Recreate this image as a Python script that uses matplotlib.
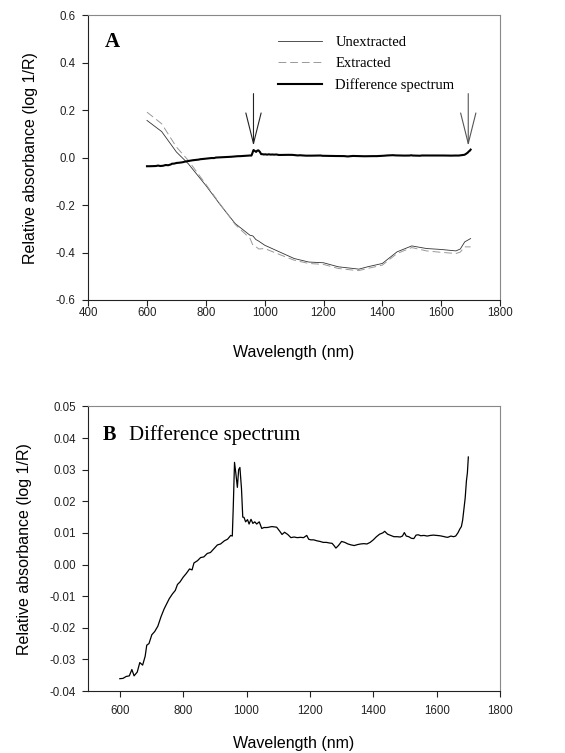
import matplotlib
matplotlib.use("Agg")
import matplotlib.pyplot as plt

# spectra
wl_spec = [600, 650, 700, 740, 800, 850, 900, 950, 960, 970, 980, 1000, 1050, 1100,
           1150, 1200, 1250, 1300, 1320, 1350, 1400, 1450, 1500, 1550, 1600, 1650,
           1665, 1680, 1700]
unextracted = [0.157, 0.110, 0.024, -0.025, -0.117, -0.200, -0.278, -0.327, -0.330,
               -0.345, -0.352, -0.369, -0.397, -0.425, -0.440, -0.443, -0.460, -0.467,
               -0.470, -0.460, -0.446, -0.397, -0.372, -0.383, -0.387, -0.393, -0.385,
               -0.355, -0.341]
extracted = [0.192, 0.143, 0.045, -0.011, -0.112, -0.198, -0.282, -0.340, -0.369,
             -0.375, -0.385, -0.383, -0.408, -0.432, -0.446, -0.450, -0.467, -0.474,
             -0.476, -0.467, -0.453, -0.404, -0.379, -0.393, -0.399, -0.404, -0.398,
             -0.376, -0.376]

wl_diff = [600, 610, 620, 630, 638, 645, 655, 663, 672, 680,
           685, 692, 701, 710, 720, 730, 740, 747, 756, 766,
           775, 782, 790, 800, 810, 820, 828, 834, 845, 855,
           865, 876, 886, 897, 908, 918, 930, 940, 950, 955,
           958, 962, 966, 971, 975, 979, 984, 988, 992, 997,
           1003, 1008, 1014, 1020, 1026, 1032, 1040, 1048, 1055, 1065,
           1080, 1095, 1105, 1112, 1120, 1130, 1140, 1150, 1160, 1170,
           1180, 1190, 1196, 1203, 1212, 1222, 1232, 1242, 1252, 1262,
           1270, 1276, 1282, 1290, 1300, 1310, 1320, 1330, 1340, 1350,
           1360, 1370, 1380, 1390, 1400, 1410, 1420, 1430, 1436, 1445,
           1455, 1465, 1475, 1485, 1492, 1498, 1504, 1512, 1520, 1528,
           1535, 1542, 1550, 1560, 1570, 1580, 1590, 1600, 1610, 1620,
           1628, 1635, 1645, 1653, 1660, 1667, 1673, 1678, 1682, 1686,
           1690, 1694, 1697, 1700]
difference = [-0.0361, -0.0360, -0.0354, -0.0352, -0.0332, -0.0352, -0.0340, -0.0310, -0.0318, -0.0290,
              -0.0255, -0.0250, -0.0222, -0.0212, -0.0195, -0.0165, -0.0140, -0.0126, -0.0108, -0.0093,
              -0.0082, -0.0063, -0.0055, -0.0040, -0.0028, -0.0014, -0.0017, 0.0005, 0.0012, 0.0022,
              0.0024, 0.0035, 0.0038, 0.0050, 0.0062, 0.0065, 0.0075, 0.0080, 0.0092, 0.0090,
              0.0180, 0.0323, 0.0290, 0.0244, 0.0300, 0.0307, 0.0240, 0.0150, 0.0149, 0.0135,
              0.0142, 0.0128, 0.0143, 0.0130, 0.0135, 0.0128, 0.0135, 0.0114, 0.0117, 0.0117,
              0.0120, 0.0118, 0.0105, 0.0095, 0.0102, 0.0095, 0.0085, 0.0087, 0.0085, 0.0086,
              0.0085, 0.0092, 0.0080, 0.0078, 0.0078, 0.0075, 0.0073, 0.0070, 0.0070, 0.0068,
              0.0067, 0.0060, 0.0052, 0.0060, 0.0073, 0.0070, 0.0065, 0.0062, 0.0060, 0.0063,
              0.0065, 0.0066, 0.0065, 0.0070, 0.0078, 0.0088, 0.0096, 0.0100, 0.0105, 0.0096,
              0.0092, 0.0088, 0.0088, 0.0087, 0.0090, 0.0101, 0.0090, 0.0088, 0.0083, 0.0082,
              0.0093, 0.0094, 0.0091, 0.0092, 0.0090, 0.0092, 0.0093, 0.0092, 0.0091, 0.0089,
              0.0087, 0.0086, 0.0090, 0.0088, 0.0090, 0.0100, 0.0112, 0.0120, 0.0140, 0.0175,
              0.0210, 0.0265, 0.0290, 0.0340]

arrow_wl = [962, 1692]
arrow_colors = ["#222222", "#555555"]

fig = plt.figure(figsize=(5.65, 7.53), dpi=100)
sans = ["Liberation Sans", "DejaVu Sans"]
serif = ["Liberation Serif", "DejaVu Serif"]


def style_axes(ax, xpad, xlabelpad, ylabelpad):
    for side in ["left", "bottom"]:
        ax.spines[side].set_color("#222222")
    for side in ["top", "right"]:
        ax.spines[side].set_color("#888888")
    for s in ax.spines.values():
        s.set_linewidth(0.8)
    ax.tick_params(direction="out", length=4, width=0.8, labelsize=8.3, colors="#222222",
                   top=False, right=False)
    ax.tick_params(axis="x", pad=xpad)
    ax.tick_params(axis="y", pad=5)
    for lab in ax.get_xticklabels() + ax.get_yticklabels():
        lab.set_fontfamily(sans)
    ax.set_xlabel("Wavelength (nm)", fontsize=11.5, family=sans, labelpad=xlabelpad)
    ax.set_ylabel("Relative absorbance (log 1/R)", fontsize=11.5, family=sans,
                  labelpad=ylabelpad)


# ---- panel A
ax1 = fig.add_axes([0.156, 0.6016, 0.729, 0.378])
ax1.plot(wl_spec, unextracted, color="#333333", lw=0.6, label="Unextracted")
ax1.plot(wl_spec, extracted, color="#999999", lw=0.7, ls=(0, (8, 4)), label="Extracted")
ax1.plot(wl_diff, difference, color="black", lw=1.5, label="Difference spectrum")
ax1.set_xlim(400, 1800)
ax1.set_ylim(-0.6, 0.6)
ax1.set_xticks(range(400, 1801, 200))
ax1.set_yticks([-0.6, -0.4, -0.2, 0.0, 0.2, 0.4, 0.6])
ax1.set_yticklabels(["-0.6", "-0.4", "-0.2", "0.0", "0.2", "0.4", "0.6"])
style_axes(ax1, xpad=1.0, xlabelpad=19, ylabelpad=12.5)
ax1.text(0.04, 0.905, "A", transform=ax1.transAxes, fontsize=15, fontweight="bold",
         family=serif, va="center")
ax1.legend(loc="upper left", bbox_to_anchor=(0.43, 0.975), frameon=False,
           prop={"family": serif, "size": 10.5}, handlelength=3.0,
           handletextpad=0.9, labelspacing=0.55)
for w, c in zip(arrow_wl, arrow_colors):
    ax1.annotate("", xy=(w, 0.05), xytext=(w, 0.27),
                 arrowprops=dict(arrowstyle="->,head_length=2.2,head_width=0.55",
                                 color=c, lw=0.8, shrinkA=0, shrinkB=0))

# ---- panel B
ax2 = fig.add_axes([0.156, 0.0823, 0.729, 0.378])
ax2.plot(wl_diff, difference, color="black", lw=0.9)
ax2.set_xlim(500, 1800)
ax2.set_ylim(-0.04, 0.05)
ax2.set_xticks(range(600, 1801, 200))
ax2.set_yticks([-0.04, -0.03, -0.02, -0.01, 0.0, 0.01, 0.02, 0.03, 0.04, 0.05])
ax2.set_yticklabels(["-0.04", "-0.03", "-0.02", "-0.01", "0.00", "0.01", "0.02",
                     "0.03", "0.04", "0.05"])
style_axes(ax2, xpad=6, xlabelpad=14, ylabelpad=12.5)
ax2.text(0.035, 0.9, "B", transform=ax2.transAxes, fontsize=14.5, fontweight="bold",
         family=serif, va="center")
ax2.text(0.1, 0.9, "Difference spectrum", transform=ax2.transAxes, fontsize=15,
         family=serif, va="center")

fig.savefig("out.png", dpi=100)
